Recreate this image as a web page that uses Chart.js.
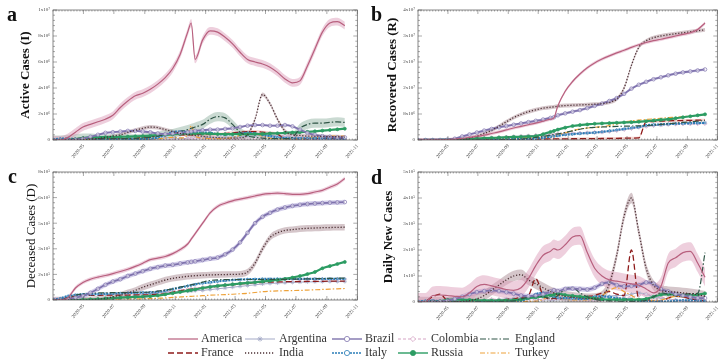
<!DOCTYPE html>
<html>
<head>
<meta charset="utf-8">
<script src="https://cdn.jsdelivr.net/npm/chart.js@4.4.1/dist/chart.umd.min.js"></script>
<style>
  body { margin: 0; background: #fff; }
  #wrap { position: relative; width: 722px; height: 364px; overflow: hidden; font-family: 'Liberation Serif', 'Times New Roman', serif; }
  #wrap canvas { position: absolute; }
  .tag { position: absolute; font-weight: bold; font-size: 20px; color: #111; line-height: 1; }
  .lg { position: absolute; font-size: 12px; color: #333; line-height: 1; white-space: nowrap; }
</style>
</head>
<body>
<div id="wrap">
  <canvas id="ca" width="362" height="162" style="left:0;top:0"></canvas>
  <canvas id="cb" width="361" height="162" style="left:361px;top:0"></canvas>
  <canvas id="cc" width="362" height="162" style="left:0;top:160px"></canvas>
  <canvas id="cd" width="361" height="162" style="left:361px;top:160px"></canvas>
  <canvas id="lg" width="722" height="40" style="left:0;top:324px"></canvas>
  <div class="tag" style="left:7px;top:4px">a</div>
  <div class="tag" style="left:371px;top:4px">b</div>
  <div class="tag" style="left:8px;top:166px">c</div>
  <div class="tag" style="left:371px;top:167px">d</div>
</div>
<script>
// days since 2020-03-01
const days = [0, 15, 30, 45, 60, 75, 90, 105, 120, 135,
  150, 165, 180, 195, 210, 225, 240, 255, 270, 277,
  285, 300, 315, 330, 345, 360, 375, 390, 405, 420,
  435, 450, 465, 480, 495, 510, 525, 540, 555, 570, 585];
const monthDays = [61, 122, 184, 245, 306, 365, 426, 487, 549, 610];
const monthLabels = ['2020-05', '2020-07', '2020-09', '2020-11', '2021-01', '2021-03', '2021-05', '2021-07', '2021-09', '2021-11'];
const countries = ['America', 'Argentina', 'Brazil', 'Colombia', 'England', 'France', 'India', 'Italy', 'Russia', 'Turkey'];

// a: active cases (millions)
const activeAmerica = [0, 0, 0.2, 0.6, 1.0, 1.2, 1.4, 1.6, 1.9, 2.5,
  3.0, 3.4, 3.6, 3.9, 4.3, 4.8, 5.5, 6.6, 8.3, 9.0,
  6.2, 7.7, 8.4, 8.3, 7.9, 7.4, 6.75, 6.2, 6.0, 5.85,
  5.6, 5.2, 4.7, 4.4, 4.55, 5.7, 7.0, 8.3, 9.0, 9.1, 8.8];
const activeArgentina = [0, 0, 0, 0, 0.01, 0.02, 0.04, 0.06, 0.1, 0.15,
  0.2, 0.25, 0.3, 0.3, 0.28, 0.22, 0.15, 0.12, 0.12, 0.13,
  0.14, 0.15, 0.16, 0.16, 0.18, 0.2, 0.25, 0.3, 0.32, 0.33,
  0.35, 0.35, 0.3, 0.25, 0.2, 0.15, 0.1, 0.08, 0.06, 0.05, 0.05];
const activeBrazil = [0, 0, 0, 0.02, 0.1, 0.25, 0.4, 0.55, 0.6, 0.65,
  0.7, 0.7, 0.65, 0.6, 0.5, 0.45, 0.5, 0.55, 0.6, 0.65,
  0.7, 0.75, 0.8, 0.8, 0.85, 0.9, 1.0, 1.1, 1.15, 1.15,
  1.1, 1.1, 1.15, 1.05, 0.8, 0.55, 0.4, 0.3, 0.25, 0.2, 0.2];
const activeColombia = [0, 0, 0, 0, 0.01, 0.02, 0.05, 0.08, 0.15, 0.2,
  0.15, 0.1, 0.08, 0.07, 0.06, 0.05, 0.05, 0.06, 0.08, 0.1,
  0.12, 0.1, 0.08, 0.06, 0.05, 0.05, 0.06, 0.08, 0.12, 0.15,
  0.2, 0.3, 0.35, 0.3, 0.2, 0.1, 0.05, 0.04, 0.03, 0.03, 0.03];
const activeEngland = [0, 0, 0.05, 0.1, 0.15, 0.15, 0.1, 0.1, 0.1, 0.1,
  0.1, 0.1, 0.15, 0.2, 0.3, 0.4, 0.5, 0.65, 0.8, 0.9,
  1.0, 1.2, 1.6, 1.8, 1.7, 1.2, 0.6, 0.3, 0.2, 0.15,
  0.1, 0.1, 0.1, 0.2, 0.9, 1.2, 1.3, 1.3, 1.35, 1.4, 1.35];
const activeFrance = [0, 0.02, 0.05, 0.07, 0.08, 0.07, 0.07, 0.08, 0.08, 0.1,
  0.12, 0.15, 0.2, 0.25, 0.35, 0.45, 0.45, 0.4, 0.4, 0.4,
  0.42, 0.45, 0.45, 0.45, 0.5, 0.55, 0.6, 0.65, 0.65, 0.6,
  0.55, 0.45, 0.1, 0.1, 0.08, 0.08, 0.1, 0.12, 0.12, 0.1, 0.1];
const activeIndia = [0, 0, 0, 0, 0.02, 0.05, 0.1, 0.2, 0.3, 0.4,
  0.6, 0.75, 0.9, 1.0, 0.95, 0.8, 0.65, 0.5, 0.42, 0.4,
  0.35, 0.28, 0.22, 0.18, 0.15, 0.14, 0.16, 0.4, 1.6, 3.5,
  2.8, 1.6, 0.7, 0.4, 0.35, 0.3, 0.3, 0.28, 0.25, 0.25, 0.22];
const activeItaly = [0.05, 0.1, 0.1, 0.08, 0.05, 0.03, 0.02, 0.02, 0.03, 0.05,
  0.05, 0.05, 0.07, 0.1, 0.2, 0.4, 0.6, 0.65, 0.62, 0.6,
  0.58, 0.57, 0.55, 0.45, 0.42, 0.45, 0.5, 0.55, 0.5, 0.4,
  0.3, 0.2, 0.15, 0.12, 0.12, 0.12, 0.12, 0.12, 0.12, 0.11, 0.1];
const activeRussia = [0, 0, 0, 0.05, 0.15, 0.2, 0.22, 0.22, 0.22, 0.24,
  0.26, 0.28, 0.3, 0.33, 0.37, 0.4, 0.44, 0.47, 0.5, 0.5,
  0.5, 0.5, 0.48, 0.46, 0.45, 0.45, 0.45, 0.45, 0.46, 0.47,
  0.5, 0.52, 0.55, 0.58, 0.6, 0.63, 0.67, 0.72, 0.77, 0.82, 0.87];
const activeTurkey = [0, 0, 0.05, 0.08, 0.05, 0.03, 0.02, 0.02, 0.02, 0.02,
  0.03, 0.05, 0.06, 0.08, 0.1, 0.15, 0.2, 0.15, 0.4, 1.1,
  0.3, 0.15, 0.1, 0.1, 0.12, 0.2, 0.35, 0.5, 0.45, 0.3,
  0.15, 0.1, 0.08, 0.08, 0.1, 0.15, 0.2, 0.25, 0.3, 0.3, 0.3];

// b: recovered cases (millions)
const recoveredAmerica = [0, 0, 0, 0.05, 0.15, 0.3, 0.5, 0.8, 1.1, 1.5,
  2.0, 2.5, 3.1, 3.7, 4.2, 4.7, 5.2, 5.8, 6.4, 6.8,
  10.5, 15.0, 18.0, 20.3, 22.2, 23.7, 24.9, 25.9, 26.8, 27.6,
  28.5, 29.3, 30.0, 30.6, 31.0, 31.5, 32.0, 32.5, 33.0, 34.0, 36.0];
const recoveredArgentina = [0, 0, 0, 0, 0.01, 0.02, 0.05, 0.1, 0.2, 0.35,
  0.5, 0.65, 0.85, 1.0, 1.15, 1.3, 1.4, 1.5, 1.6, 1.65,
  1.7, 1.8, 1.9, 2.0, 2.1, 2.2, 2.4, 2.6, 2.9, 3.3,
  3.6, 3.9, 4.2, 4.4, 4.6, 4.8, 5.0, 5.1, 5.2, 5.2, 5.25];
const recoveredBrazil = [0, 0, 0, 0, 0.1, 0.4, 1.1, 1.7, 2.3, 2.9,
  3.4, 3.9, 4.3, 4.7, 5.1, 5.5, 5.9, 6.3, 6.8, 7.0,
  7.6, 8.2, 8.7, 9.2, 9.8, 10.5, 11.2, 12.0, 12.9, 14.2,
  15.8, 17.0, 17.9, 18.7, 19.3, 19.9, 20.4, 20.8, 21.1, 21.4, 21.7];
const recoveredColombia = [0, 0, 0, 0, 0.01, 0.02, 0.05, 0.15, 0.3, 0.5,
  0.7, 0.85, 0.95, 1.05, 1.15, 1.3, 1.45, 1.6, 1.7, 1.8,
  1.9, 2.0, 2.1, 2.2, 2.3, 2.4, 2.5, 2.7, 2.9, 3.2,
  3.5, 3.9, 4.2, 4.5, 4.7, 4.8, 4.85, 4.9, 4.9, 4.95, 5.0];
const recoveredEngland = [0, 0, 0, 0, 0, 0.01, 0.02, 0.03, 0.04, 0.05,
  0.06, 0.07, 0.1, 0.15, 0.3, 0.5, 0.8, 1.1, 1.5, 1.7,
  1.9, 2.3, 2.8, 3.3, 3.7, 3.9, 4.0, 4.1, 4.2, 4.25,
  4.3, 4.35, 4.45, 4.6, 4.8, 5.0, 5.2, 5.4, 5.6, 5.8, 6.0];
const recoveredFrance = [0, 0.02, 0.05, 0.07, 0.08, 0.08, 0.08, 0.08, 0.09, 0.1,
  0.1, 0.11, 0.12, 0.13, 0.15, 0.2, 0.25, 0.3, 0.33, 0.34,
  0.35, 0.36, 0.38, 0.4, 0.42, 0.44, 0.46, 0.48, 0.5, 0.55,
  0.6, 0.65, 5.6, 5.7, 5.8, 5.9, 5.95, 6.0, 6.05, 6.1, 6.15];
const recoveredIndia = [0, 0, 0, 0, 0.01, 0.05, 0.15, 0.6, 1.2, 2.0,
  3.0, 4.2, 5.6, 6.9, 7.9, 8.7, 9.3, 9.8, 10.1, 10.2,
  10.4, 10.6, 10.7, 10.8, 10.9, 11.0, 11.2, 11.6, 12.6, 16.0,
  23.0, 28.5, 30.5, 31.5, 32.0, 32.4, 32.7, 33.0, 33.3, 33.6, 33.9];
const recoveredItaly = [0, 0.01, 0.03, 0.08, 0.12, 0.15, 0.18, 0.19, 0.2, 0.2,
  0.21, 0.22, 0.23, 0.24, 0.26, 0.3, 0.45, 0.7, 1.0, 1.15,
  1.3, 1.6, 1.8, 2.0, 2.15, 2.3, 2.5, 2.8, 3.1, 3.4,
  3.7, 4.0, 4.5, 4.7, 4.8, 4.9, 5.0, 5.1, 5.15, 5.2, 5.25];
const recoveredRussia = [0, 0, 0, 0, 0.02, 0.08, 0.2, 0.35, 0.45, 0.55,
  0.65, 0.75, 0.85, 0.95, 1.0, 1.1, 1.2, 1.8, 2.5, 2.8,
  3.2, 3.8, 4.3, 4.6, 4.8, 5.0, 5.1, 5.2, 5.3, 5.4,
  5.5, 5.6, 5.8, 6.0, 6.2, 6.4, 6.7, 7.0, 7.3, 7.6, 7.9];
const recoveredTurkey = [0, 0, 0, 0.01, 0.05, 0.15, 0.3, 0.4, 0.45, 0.5,
  0.55, 0.6, 0.65, 0.7, 0.75, 0.8, 0.85, 0.9, 1.0, 1.1,
  1.5, 2.2, 2.9, 3.4, 3.7, 3.9, 4.1, 4.4, 4.9, 5.5,
  5.9, 6.1, 6.3, 6.5, 6.7, 6.9, 7.0, 7.2, 7.4, 7.6, 7.8];

// c: deceased cases (thousands)
const deceasedAmerica = [0, 0, 15, 75, 110, 130, 143, 153, 165, 178,
  192, 210, 230, 252, 262, 272, 290, 315, 350, 380,
  415, 480, 545, 585, 605, 620, 630, 640, 650, 660,
  665, 668, 665, 660, 660, 665, 675, 685, 705, 725, 760];
const deceasedArgentina = [0, 0, 0, 0, 0.5, 1, 2, 4, 8, 13,
  20, 28, 35, 40, 44, 47, 50, 52, 55, 56,
  58, 60, 65, 70, 75, 80, 85, 90, 95, 100,
  103, 106, 108, 110, 112, 113, 114, 114.5, 115, 115, 115];
const deceasedBrazil = [0, 0, 5, 15, 25, 45, 70, 95, 115, 130,
  150, 165, 180, 195, 205, 215, 220, 228, 235, 238,
  242, 250, 258, 265, 285, 315, 360, 420, 480, 520,
  545, 565, 578, 588, 595, 600, 603, 606, 608, 610, 612];
const deceasedColombia = [0, 0, 0, 0, 0.5, 1.5, 3, 6, 12, 20,
  28, 34, 40, 45, 50, 53, 57, 62, 68, 70,
  74, 80, 87, 92, 96, 100, 105, 110, 115, 120,
  124, 126, 127, 128, 129, 129.5, 130, 130, 130, 130, 130];
const deceasedEngland = [0, 2, 15, 30, 38, 42, 44, 45, 46, 46,
  47, 47, 48, 50, 55, 62, 70, 80, 90, 95,
  100, 112, 122, 126, 127, 127.5, 128, 128, 128, 128.5,
  128.5, 129, 129, 130, 131, 132, 133, 134, 135, 136, 137];
const deceasedFrance = [0, 3, 15, 23, 28, 29, 29.5, 30, 30, 30.5,
  31, 31.5, 32, 33, 36, 40, 48, 58, 65, 68,
  70, 75, 80, 85, 90, 95, 100, 104, 108, 110,
  112, 113, 114, 115, 115.5, 116, 116.5, 117, 117.5, 118, 118];
const deceasedIndia = [0, 0, 0, 0, 0, 2, 5, 10, 20, 30,
  45, 60, 80, 95, 110, 125, 135, 142, 148, 150,
  152, 155, 157, 158, 159, 160, 162, 175, 230, 320,
  390, 420, 435, 440, 445, 448, 450, 452, 453, 454, 455];
const deceasedItaly = [2, 10, 25, 32, 35, 36, 37, 38, 40, 42,
  44, 45, 46, 47, 50, 58, 68, 78, 88, 92,
  98, 105, 110, 116, 121, 125, 128, 130, 131, 131.5,
  131.5, 132, 132, 132, 132, 132, 132, 132, 132, 132, 132];
const deceasedRussia = [0, 0, 0, 0, 2, 4, 6, 9, 12, 15,
  17, 19, 21, 24, 28, 35, 42, 50, 58, 62,
  66, 75, 82, 88, 93, 98, 103, 107, 111, 116,
  120, 125, 132, 140, 150, 162, 175, 198, 212, 225, 238];
const deceasedTurkey = [0, 0, 0.5, 2, 3, 4, 4.5, 5, 5.5, 6,
  6.5, 7, 8, 9, 11, 13, 16, 19, 22, 23,
  24, 27, 30, 32, 34, 36, 39, 42, 47, 52,
  55, 57, 58, 59, 60, 62, 64, 66, 68, 70, 72];

// d: daily new cases (thousands)
const dailyAmerica = [0, 0, 25, 27, 25, 22, 20, 35, 60, 68,
  62, 55, 48, 45, 55, 90, 140, 180, 195, 205,
  200, 220, 250, 255, 190, 130, 100, 85, 80, 75,
  70, 65, 50, 35, 60, 150, 170, 190, 195, 150, 95];
const dailyArgentina = [0, 0, 0, 0, 0.5, 1, 1.5, 3, 4, 6,
  8, 10, 12, 14, 15, 14, 11, 9, 7, 8,
  10, 12, 11, 10, 8, 8, 15, 22, 25, 25,
  30, 35, 30, 20, 15, 12, 8, 4, 2, 1.5, 1.2];
const dailyBrazil = [0, 0, 0.5, 2, 5, 12, 20, 30, 38, 42,
  45, 42, 38, 32, 25, 22, 25, 30, 40, 45,
  42, 50, 52, 50, 48, 55, 70, 75, 65, 60,
  62, 65, 75, 70, 50, 40, 30, 25, 20, 15, 15];
const dailyColombia = [0, 0, 0, 0, 0, 0.5, 1, 2, 4, 8,
  11, 10, 9, 8, 7, 8, 9, 10, 12, 13,
  15, 14, 12, 10, 8, 7, 9, 12, 15, 17,
  20, 25, 30, 28, 20, 12, 6, 3, 2, 2, 2];
const dailyEngland = [0, 2, 4, 5, 3, 1.5, 1, 0.7, 0.6, 0.8,
  1, 1.5, 3, 4, 12, 18, 22, 20, 15, 16,
  25, 50, 55, 35, 20, 10, 6, 4, 3, 2.5,
  2.5, 3, 6, 20, 35, 30, 26, 30, 32, 33, 190];
const dailyFrance = [0, 3, 20, 30, 5, 0.5, 0.5, 1, 1.5, 2,
  4, 6, 10, 12, 18, 25, 90, 25, 12, 14,
  12, 15, 20, 20, 22, 25, 35, 40, 30, 25,
  200, 12, 8, 3, 3, 15, 22, 20, 12, 7, 5];
const dailyIndia = [0, 0, 0, 0, 0, 0.5, 2, 5, 12, 25,
  45, 65, 85, 100, 105, 85, 70, 55, 40, 35,
  28, 22, 18, 15, 13, 14, 22, 70, 180, 330,
  400, 270, 130, 65, 45, 40, 38, 35, 32, 28, 22];
const dailyItaly = [1, 4, 5, 3, 1.5, 0.6, 0.3, 0.2, 0.2, 0.3,
  0.6, 1.2, 1.5, 2, 5, 15, 30, 35, 25, 20,
  17, 15, 14, 12, 13, 20, 22, 20, 15, 12,
  9, 5, 3, 1, 1.2, 2, 5, 6, 6, 5, 3.5];
const dailyRussia = [0, 0, 0.2, 3, 8, 10, 9, 8, 7, 6,
  5.5, 6, 6, 7, 10, 15, 18, 22, 26, 28,
  32, 27, 24, 21, 18, 14, 11, 9, 9, 9,
  9, 9, 12, 20, 28, 30, 28, 26, 25, 28, 33];
const dailyTurkey = [0, 0.5, 3, 4, 2, 1, 1, 1, 1, 1,
  1.2, 1.5, 1.7, 1.7, 2, 2.5, 3, 10, 30, 32,
  22, 12, 8, 8, 8, 12, 25, 45, 55, 40,
  25, 10, 7, 5.5, 7, 15, 22, 20, 25, 28, 30];

// tick labels
const activeTicks = ['0', '2x10⁶', '4x10⁶', '6x10⁶', '8x10⁶', '1x10⁷'];
const recoveredTicks = ['0', '8x10⁶', '2x10⁷', '2x10⁷', '3x10⁷', '4x10⁷'];
const deceasedTicks = ['0', '2x10⁵', '3x10⁵', '5x10⁵', '6x10⁵', '8x10⁵'];
const dailyTicks = ['0', '1x10⁵', '2x10⁵', '3x10⁵', '4x10⁵', '5x10⁵'];

// half-width of the shaded uncertainty bands
const spreadActive = [['America', 0.3], ['England', 0.35], ['India', 0.15], ['Brazil', 0.08], ['France', 0.12]];
const spreadRecovered = [['America', 0.5], ['India', 0.6], ['Brazil', 0.4], ['France', 0.4]];
const spreadDeceased = [['America', 12], ['Brazil', 15], ['India', 20], ['Russia', 5]];
const spreadDaily = [['America', 35], ['India', 20], ['Brazil', 10]];

const styles = {
  America:   { color: '#b8607e', width: 1.2, dash: [], order: 1 },
  Argentina: { color: '#a3a9c6', width: 1, dash: [], point: 'star', radius: 2, order: 10 },
  Brazil:    { color: '#7f73ad', width: 1.8, dash: [], point: 'circle', radius: 1.8, order: 3 },
  Colombia:  { color: '#d5a3c4', width: 1, dash: [3, 2], point: 'rectRot', radius: 1.8, order: 9 },
  England:   { color: '#2f5546', width: 1.2, dash: [6, 2, 1.5, 2], order: 4 },
  France:    { color: '#8e1b1b', width: 1.3, dash: [6, 3], order: 8 },
  India:     { color: '#4b2f33', width: 1.3, dash: [1.2, 1.8], order: 2 },
  Italy:     { color: '#2a7db8', width: 2.2, dash: [2, 1], point: 'circle', radius: 1, order: 6 },
  Russia:    { color: '#2c9c63', width: 2.2, dash: [], point: 'circle', radius: 1.5, solidPoint: true, order: 5 },
  Turkey:    { color: '#eda23a', width: 1.2, dash: [5, 2, 1.5, 2], order: 7 },
};
const bandColors = {
  America: 'rgba(222,160,188,0.5)',
  England: 'rgba(150,182,165,0.5)',
  India: 'rgba(150,112,122,0.4)',
  Brazil: 'rgba(172,162,215,0.5)',
  France: 'rgba(232,152,142,0.4)',
  Russia: 'rgba(120,200,150,0.4)',
};

const serif = 'Liberation Serif';

// frame with minor ticks like the original figure
const framePlugin = {
  id: 'frame',
  afterDraw(chart) {
    const { ctx, chartArea: a, scales: { x, y } } = chart;
    ctx.save();
    ctx.strokeStyle = '#555';
    ctx.lineWidth = 0.7;
    ctx.strokeRect(a.left, a.top, a.right - a.left, a.bottom - a.top);
    ctx.lineWidth = 0.5;
    ctx.beginPath();
    const major = y.max / 5;
    for (let k = 0; k <= 25; k++) {
      const py = y.getPixelForValue(k * major / 5);
      const len = k % 5 === 0 ? 4 : 2;
      ctx.moveTo(a.left, py); ctx.lineTo(a.left + len, py);
      ctx.moveTo(a.right, py); ctx.lineTo(a.right - len, py);
    }
    for (let d = 0; d <= 610; d += 6) {
      const px = x.getPixelForValue(d);
      ctx.moveTo(px, a.top); ctx.lineTo(px, a.top + 1.5);
      ctx.moveTo(px, a.bottom); ctx.lineTo(px, a.bottom - 1.5);
    }
    monthDays.forEach(d => {
      const px = x.getPixelForValue(d);
      ctx.moveTo(px, a.top); ctx.lineTo(px, a.top + 4);
      ctx.moveTo(px, a.bottom); ctx.lineTo(px, a.bottom - 4);
    });
    ctx.stroke();
    ctx.restore();
  }
};

function makePanel(cfg) {
  const datasets = [];
  cfg.spread.forEach(([name, w]) => {
    const vals = cfg.series[countries.indexOf(name)];
    datasets.push({
      data: vals.map((v, i) => ({ x: days[i], y: v - w })),
      borderWidth: 0, pointRadius: 0, fill: false, order: 90,
      cubicInterpolationMode: 'monotone'
    });
    datasets.push({
      data: vals.map((v, i) => ({ x: days[i], y: v + w })),
      borderWidth: 0, pointRadius: 0, fill: '-1', order: 90,
      backgroundColor: bandColors[name], cubicInterpolationMode: 'monotone'
    });
  });
  countries.forEach((name, k) => {
    const s = styles[name];
    datasets.push({
      label: name,
      data: cfg.series[k].map((v, i) => ({ x: days[i], y: v })),
      borderColor: s.color,
      borderWidth: s.width,
      borderDash: s.dash,
      pointStyle: s.point || 'circle',
      pointRadius: s.point ? s.radius : 0,
      pointBorderColor: s.color,
      pointBackgroundColor: s.solidPoint ? s.color : 'rgba(255,255,255,0.5)',
      pointBorderWidth: 0.7,
      cubicInterpolationMode: 'monotone',
      fill: false,
      order: s.order
    });
  });

  new Chart(document.getElementById(cfg.id), {
    type: 'line',
    data: { datasets },
    options: {
      responsive: false,
      animation: false,
      events: [],
      layout: { padding: cfg.pad },
      plugins: { legend: { display: false }, tooltip: { enabled: false } },
      scales: {
        x: {
          type: 'linear', min: 0, max: 610,
          grid: { display: false, drawTicks: false },
          border: { display: false },
          afterBuildTicks: sc => { sc.ticks = monthDays.map(v => ({ value: v })); },
          afterFit: sc => { sc.height = cfg.xHeight; sc.paddingLeft = 0; sc.paddingRight = 0; },
          ticks: {
            autoSkip: false, minRotation: 50, maxRotation: 50, padding: 3,
            font: { family: serif, size: 5 }, color: '#444',
            callback: (v, i) => monthLabels[i]
          }
        },
        y: {
          min: 0, max: cfg.yMax,
          grid: { display: false, drawTicks: false },
          border: { display: false },
          afterBuildTicks: sc => { sc.ticks = cfg.yLabels.map((t, i) => ({ value: cfg.yMax * i / 5 })); },
          afterFit: sc => { sc.width = cfg.yWidth; sc.paddingTop = 0; sc.paddingBottom = 0; },
          ticks: {
            padding: 3, font: { family: serif, size: 5 }, color: '#444',
            callback: (v, i) => cfg.yLabels[i]
          },
          title: {
            display: true, text: cfg.title, color: '#111',
            font: { family: serif, size: 13, weight: cfg.bold ? 'bold' : 'normal' },
            padding: { top: 0, bottom: 0 }
          }
        }
      }
    },
    plugins: [framePlugin]
  });
}

makePanel({
  id: 'ca', title: 'Active Cases (I)', bold: true, yMax: 10, yLabels: activeTicks,
  series: [activeAmerica, activeArgentina, activeBrazil, activeColombia, activeEngland,
    activeFrance, activeIndia, activeItaly, activeRussia, activeTurkey],
  spread: spreadActive,
  pad: { left: 18, top: 10, right: 2, bottom: 0 }, yWidth: 35, xHeight: 22
});
makePanel({
  id: 'cb', title: 'Recovered Cases (R)', bold: true, yMax: 40, yLabels: recoveredTicks,
  series: [recoveredAmerica, recoveredArgentina, recoveredBrazil, recoveredColombia, recoveredEngland,
    recoveredFrance, recoveredIndia, recoveredItaly, recoveredRussia, recoveredTurkey],
  spread: spreadRecovered,
  pad: { left: 24, top: 10, right: 2, bottom: 0 }, yWidth: 33, xHeight: 22
});
makePanel({
  id: 'cc', title: 'Deceased Cases (D)', bold: false, yMax: 800, yLabels: deceasedTicks,
  series: [deceasedAmerica, deceasedArgentina, deceasedBrazil, deceasedColombia, deceasedEngland,
    deceasedFrance, deceasedIndia, deceasedItaly, deceasedRussia, deceasedTurkey],
  spread: spreadDeceased,
  pad: { left: 24, top: 12, right: 2, bottom: 0 }, yWidth: 29, xHeight: 22
});
makePanel({
  id: 'cd', title: 'Daily New Cases', bold: true, yMax: 500, yLabels: dailyTicks,
  series: [dailyAmerica, dailyArgentina, dailyBrazil, dailyColombia, dailyEngland,
    dailyFrance, dailyIndia, dailyItaly, dailyRussia, dailyTurkey],
  spread: spreadDaily,
  pad: { left: 20, top: 12, right: 2, bottom: 0 }, yWidth: 37, xHeight: 20
});

// legend: line samples on a canvas, names as text
const legendRows = [['America', 'Argentina', 'Brazil', 'Colombia', 'England'],
  ['France', 'India', 'Italy', 'Russia', 'Turkey']];
const legendX = [168, 245, 332, 398, 480];
const legendTextX = [201, 279, 365, 431, 515];
const legendY = [339, 353];
const lg = document.getElementById('lg').getContext('2d');
const wrap = document.getElementById('wrap');
legendRows.forEach((row, r) => row.forEach((name, c) => {
  const s = styles[name];
  const y = legendY[r] - 324;
  const x0 = legendX[c], x1 = x0 + 30;
  lg.save();
  lg.strokeStyle = s.color;
  lg.lineWidth = Math.min(s.width, 1.4);
  lg.setLineDash(s.dash);
  lg.beginPath(); lg.moveTo(x0, y); lg.lineTo(x1, y); lg.stroke();
  lg.setLineDash([]);
  if (s.point) {
    lg.strokeStyle = s.color;
    lg.fillStyle = s.solidPoint ? s.color : '#fff';
    lg.lineWidth = 0.8;
    Chart.helpers.drawPoint(lg, { pointStyle: s.point, radius: 2.6, borderWidth: 0.8, rotation: 0 }, (x0 + x1) / 2, y);
  }
  lg.restore();
  const el = document.createElement('div');
  el.className = 'lg';
  el.textContent = name;
  el.style.left = legendTextX[c] + 'px';
  el.style.top = (legendY[r] - 7) + 'px';
  wrap.appendChild(el);
}));
</script>
</body>
</html>
